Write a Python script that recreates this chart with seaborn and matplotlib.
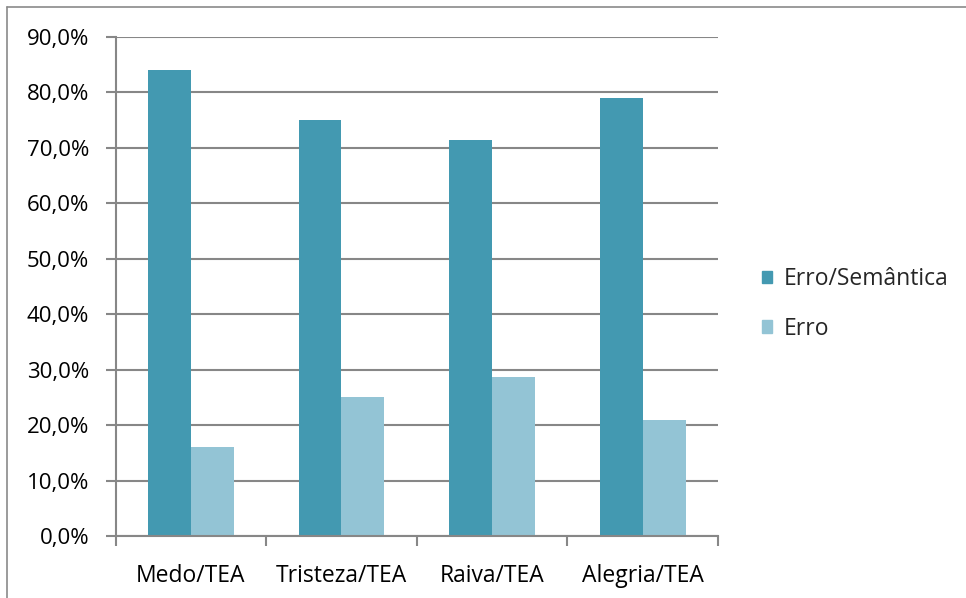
import matplotlib
matplotlib.use("Agg")
import matplotlib.pyplot as plt
import matplotlib.patches as mpatches
from matplotlib.ticker import FuncFormatter, MultipleLocator
import seaborn as sns
import pandas as pd

categories = ["Medo/TEA", "Tristeza/TEA", "Raiva/TEA", "Alegria/TEA"]
series_names = ["Erro/Semântica", "Erro"]
erro_semantica = [84.0, 75.0, 71.4, 79.0]
erro = [16.0, 25.0, 28.6, 21.0]
colors = ["#4399B1", "#93C4D5"]

df = pd.DataFrame({
    "cat": categories * 2,
    "serie": [series_names[0]] * 4 + [series_names[1]] * 4,
    "val": erro_semantica + erro,
})

sns.set_theme(style="white")
plt.rcParams["font.family"] = ["Open Sans", "DejaVu Sans"]

FS = 16

fig = plt.figure(figsize=(9.66, 5.98), dpi=100)
ax = fig.add_axes([115.5 / 966, 1 - 536 / 598, (718 - 115.5) / 966, (536 - 37) / 598])

sns.barplot(data=df, x="cat", y="val", hue="serie", palette=colors,
            width=0.57, gap=0, ax=ax, legend=False, saturation=1,
            edgecolor="none", linewidth=0)

ax.set_xlim(-0.5, 3.5)
ax.set_ylim(0, 90)
ax.yaxis.set_major_locator(MultipleLocator(10))
ax.yaxis.set_major_formatter(FuncFormatter(lambda v, p: f"{v:.1f}%".replace(".", ",")))
ax.set_xlabel("")
ax.set_ylabel("")

grid_c = "#878787"
ax.grid(axis="y", color=grid_c, linewidth=1.5)
ax.set_axisbelow(True)
for s in ["top", "right"]:
    ax.spines[s].set_visible(False)
for s in ["left", "bottom"]:
    ax.spines[s].set_color(grid_c)
    ax.spines[s].set_linewidth(1.5)

ax.set_xticks([0, 1, 2, 3])
ax.set_xticklabels(categories)
ax.set_xticks([-0.5, 0.5, 1.5, 2.5, 3.5], minor=True)
ax.tick_params(axis="x", which="major", length=0, pad=20, labelsize=FS + 0.5, colors="black")
ax.tick_params(axis="x", which="minor", length=7, width=1.5, color=grid_c, bottom=True)
ax.tick_params(axis="y", which="major", length=7, width=1.5, color=grid_c, left=True,
               labelsize=FS, labelcolor="black", pad=12)

handles = [mpatches.Patch(color=c, label=n) for c, n in zip(colors, series_names)]
fig.legend(handles=handles, loc="center left", bbox_to_anchor=(762 / 966, 1 - 304 / 598),
           frameon=False, fontsize=FS + 0.5, handlelength=0.45, handleheight=0.45,
           handletextpad=0.5, labelspacing=1.1, borderaxespad=0, borderpad=0)

# outer chart border (top and left only visible)
fig.add_artist(plt.Line2D([7 / 966, 1.0], [1 - 7 / 598, 1 - 7 / 598], color="#8a8a8a",
                          linewidth=1.2, transform=fig.transFigure))
fig.add_artist(plt.Line2D([7 / 966, 7 / 966], [0, 1 - 7 / 598], color="#8a8a8a",
                          linewidth=1.2, transform=fig.transFigure))

fig.savefig("out.png", dpi=100, facecolor="white")
